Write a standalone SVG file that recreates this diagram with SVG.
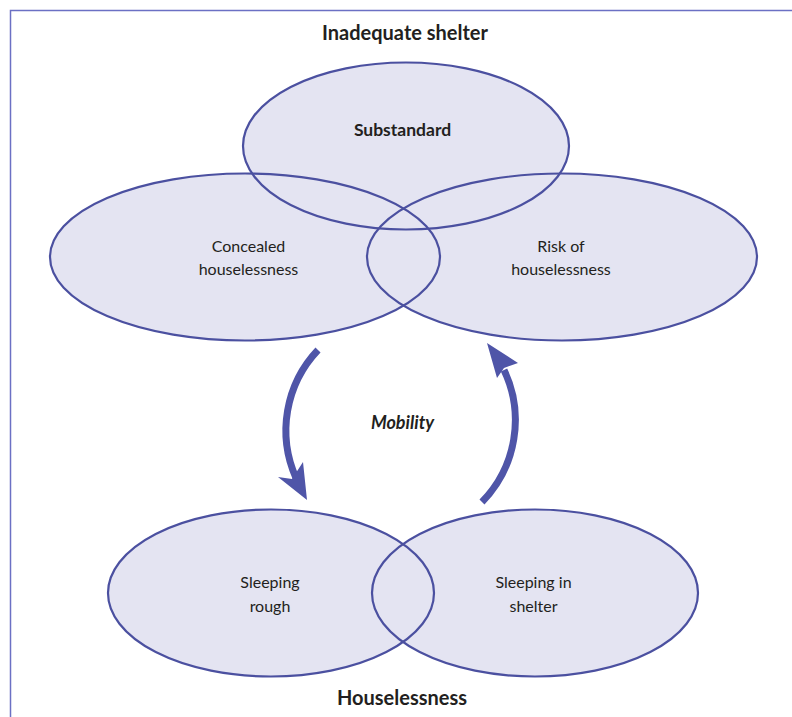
<svg xmlns="http://www.w3.org/2000/svg" xmlns:xlink="http://www.w3.org/1999/xlink" width="792" height="717" viewBox="0 0 792 717">
<style>
.fill{fill:#e4e4f2;stroke:none}
.outline{fill:none;stroke:#4b50a0;stroke-width:2.2}
.lbl{font-family:Lato,"Liberation Sans",sans-serif;font-size:16px;fill:#231f20;text-anchor:middle}
.hd{font-family:Lato,"Liberation Sans",sans-serif;font-size:20px;font-weight:bold;fill:#231f20;text-anchor:middle}
.arc{fill:none;stroke:#4f55a8;stroke-width:7}
.head{fill:#4f55a8}
</style>
<defs>
<ellipse id="e-sub" cx="406" cy="146" rx="163" ry="83.5"/>
<ellipse id="e-con" cx="245" cy="257" rx="195" ry="83.5"/>
<ellipse id="e-risk" cx="562" cy="257" rx="195" ry="83.5"/>
<ellipse id="e-rough" cx="271" cy="593" rx="163" ry="83.5"/>
<ellipse id="e-shel" cx="535" cy="593" rx="163" ry="83.5"/>
</defs>
<g id="frame"><path d="M10.5,717 V10.5 H792" fill="none" stroke="#6b70c4" stroke-width="1.5"/></g>
<text class="hd" x="405" y="40">Inadequate shelter</text>
<text class="hd" x="402" y="705">Houselessness</text>
<g id="substandard"><use xlink:href="#e-sub" class="fill"/><text class="lbl" x="402.5" y="136" style="font-weight:bold;font-size:17.5px">Substandard</text></g>
<g id="concealed"><use xlink:href="#e-con" class="fill"/><text class="lbl" x="248.5" y="251.5">Concealed</text><text class="lbl" x="248.5" y="275">houselessness</text></g>
<g id="risk"><use xlink:href="#e-risk" class="fill"/><text class="lbl" x="561" y="251.5">Risk of</text><text class="lbl" x="561" y="275">houselessness</text></g>
<g id="rough"><use xlink:href="#e-rough" class="fill"/><text class="lbl" x="270" y="588">Sleeping</text><text class="lbl" x="270" y="611.5">rough</text></g>
<g id="shelter"><use xlink:href="#e-shel" class="fill"/><text class="lbl" x="533.5" y="588">Sleeping in</text><text class="lbl" x="533.5" y="611.5">shelter</text></g>
<g id="outlines">
<use xlink:href="#e-sub" class="outline"/>
<use xlink:href="#e-con" class="outline"/>
<use xlink:href="#e-risk" class="outline"/>
<use xlink:href="#e-rough" class="outline"/>
<use xlink:href="#e-shel" class="outline"/>
</g>
<g id="connectors">
<path class="arc" d="M318,350 A117,117 0 0 0 296,478"/>
<polygon class="head" points="307,500 278,477 292,479 303,462"/>
<path class="arc" d="M482,502 A117,117 0 0 0 504,370"/>
<polygon class="head" points="487,343 518,363 504,368 497,378"/>
</g>
<text class="lbl" x="402.5" y="429" style="font-weight:bold;font-style:italic;font-size:18px">Mobility</text>
</svg>
